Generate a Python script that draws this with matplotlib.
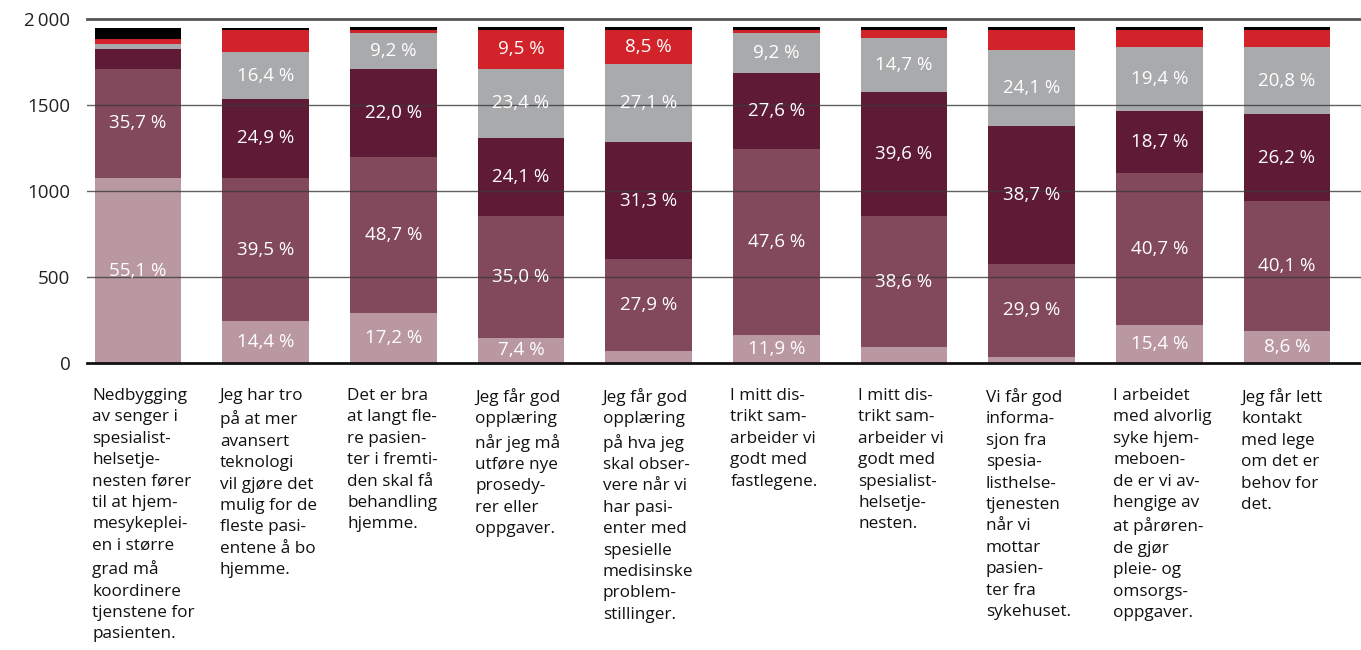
import matplotlib
matplotlib.use("Agg")
import matplotlib.pyplot as plt
from matplotlib.transforms import blended_transform_factory
import numpy as np

plt.rcParams['font.family'] = ['Open Sans', 'DejaVu Sans']

categories = [
    "Nedbygging\nav senger i\nspesialist-\nhelsetje-\nnesten fører\ntil at hjem-\nmesykeplei-\nen i større\ngrad må\nkoordinere\ntjenstene for\npasienten.",
    "Jeg har tro\npå at mer\navansert\nteknologi\nvil gjøre det\nmulig for de\nfleste pasi-\nentene å bo\nhjemme.",
    "Det er bra\nat langt fle-\nre pasien-\nter i fremti-\nden skal få\nbehandling\nhjemme.",
    "Jeg får god\nopplæring\nnår jeg må\nutføre nye\nprosedy-\nrer eller\noppgaver.",
    "Jeg får god\nopplæring\npå hva jeg\nskal obser-\nvere når vi\nhar pasi-\nenter med\nspesielle\nmedisinske\nproblem-\nstillinger.",
    "I mitt dis-\ntrikt sam-\narbeider vi\ngodt med\nfastlegene.",
    "I mitt dis-\ntrikt sam-\narbeider vi\ngodt med\nspesialist-\nhelsetje-\nnesten.",
    "Vi får god\ninforma-\nsjon fra\nspesia-\nlisthelse-\ntjenesten\nnår vi\nmottar\npasien-\nter fra\nsykehuset.",
    "I arbeidet\nmed alvorlig\nsyke hjem-\nmeboen-\nde er vi av-\nhengige av\nat pårøren-\nde gjør\npleie- og\nomsorgs-\noppgaver.",
    "Jeg får lett\nkontakt\nmed lege\nom det er\nbehov for\ndet.",
]

# counts per response level (bottom to top)
s1_pink   = [1079, 246, 294, 149,  72, 165,  95,  37, 223, 188]
s2_mauve  = [ 632, 831, 905, 707, 534, 1081, 761, 540, 883, 756]
s3_maroon = [ 115, 461, 512, 456, 679, 444, 721, 802, 361, 505]
s4_gray   = [  29, 270, 211, 399, 457, 232, 316, 443, 372, 390]
s5_red    = [  30, 130,  16, 227, 196,  16,  45, 116,  99,  99]
s6_black  = [  64,  11,  19,  19,  19,  17,  17,  17,  17,  17]

# percentage labels shown inside segments (None = no label)
l1_pink   = ["55,1 %", "14,4 %", "17,2 %", "7,4 %", None, "11,9 %", None, None, "15,4 %", "8,6 %"]
l2_mauve  = ["35,7 %", "39,5 %", "48,7 %", "35,0 %", "27,9 %", "47,6 %", "38,6 %", "29,9 %", "40,7 %", "40,1 %"]
l3_maroon = [None, "24,9 %", "22,0 %", "24,1 %", "31,3 %", "27,6 %", "39,6 %", "38,7 %", "18,7 %", "26,2 %"]
l4_gray   = [None, "16,4 %", "9,2 %", "23,4 %", "27,1 %", "9,2 %", "14,7 %", "24,1 %", "19,4 %", "20,8 %"]
l5_red    = [None, None, None, "9,5 %", "8,5 %", None, None, None, None, None]
l6_black  = [None] * 10

yticks = [0, 500, 1000, 1500, 2000]
ytick_labels = ["0", "500", "1000", "1500", "2\u2009000"]

series = [s1_pink, s2_mauve, s3_maroon, s4_gray, s5_red, s6_black]
labels = [l1_pink, l2_mauve, l3_maroon, l4_gray, l5_red, l6_black]
colors = ["#BA98A2", "#82485C", "#5F1A35", "#A9AAAC", "#D2232A", "#000000"]

fig = plt.figure(figsize=(13.61, 6.5), dpi=100)
ax = fig.add_axes([87 / 1361, 1 - 363.3 / 650, 1 - 87 / 1361, (363.3 - 19.3) / 650])

x = np.arange(len(categories))
width = 0.68
bottom = np.zeros(len(categories))
for vals, labs, col in zip(series, labels, colors):
    vals = np.array(vals, dtype=float)
    ax.bar(x, vals, width, bottom=bottom, color=col, zorder=2, linewidth=0)
    for i, (v, lab) in enumerate(zip(vals, labs)):
        if lab:
            ax.text(x[i], bottom[i] + v / 2, lab, ha='center', va='center',
                    color='white', fontsize=13.5, zorder=4)
    bottom += vals

ax.set_xlim(-0.4, 9.58)
ax.set_ylim(0, 2000)
for s in ax.spines.values():
    s.set_visible(False)
ax.set_xticks([])
ax.set_yticks(yticks)
ax.set_yticklabels(ytick_labels, fontsize=13.5, color='#222222')
ax.tick_params(axis='y', length=0, pad=12)

for yv in yticks[1:-1]:
    ax.axhline(yv, color='#3a3a3a', lw=1.0, zorder=3, alpha=0.8)
ax.axhline(2000, color='#555555', lw=2.0, zorder=3, clip_on=False)
ax.axhline(0, color='#111111', lw=2.0, zorder=3, clip_on=False)

trans = blended_transform_factory(ax.transData, ax.transAxes)
for i, cat in enumerate(categories):
    ax.text(x[i] - width / 2 - 0.02, -0.072, cat, transform=trans, ha='left', va='top',
            fontsize=12.3, color='#111111', linespacing=1.45)

fig.savefig("out.png", dpi=100)
